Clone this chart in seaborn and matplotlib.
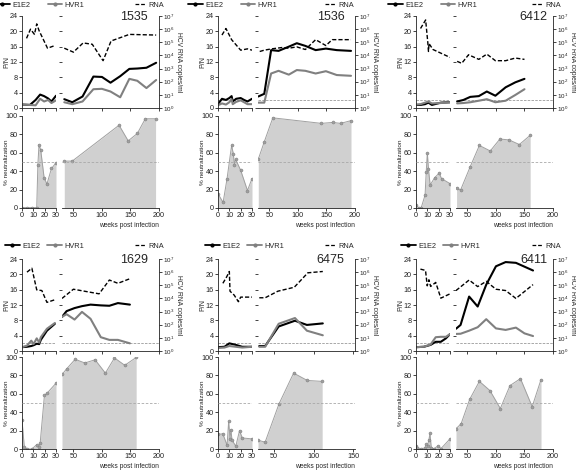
import matplotlib
matplotlib.use("Agg")
import matplotlib.pyplot as plt
import seaborn as sns
from matplotlib.lines import Line2D

# ---------------- data (weeks post infection; P/N; log10 RNA copies/ml; % neutralization) -------------
# 1535
p1535_wk_pn_a = [0, 7, 12, 16, 19.5, 23, 26, 30]
p1535_e1e2_a = [0.9, 0.8, 2.1, 3.5, 3.1, 2.5, 1.7, 3.2]
p1535_hvr1_a = [0.9, 0.8, 0.7, 2.4, 1.7, 2.1, 1.3, 2.0]
p1535_wk_pn_b = [34, 48, 66, 85, 100, 115, 132, 148, 162, 178, 195]
p1535_e1e2_b = [2.3, 1.5, 3.0, 8.2, 8.1, 6.6, 8.3, 10.2, 10.3, 10.5, 11.8]
p1535_hvr1_b = [1.5, 1.0, 1.7, 4.9, 5.0, 4.3, 2.8, 7.6, 7.1, 5.2, 7.3]
p1535_wk_rna_a = [4, 7.5, 11, 13, 15, 22.5, 29]
p1535_rna_a = [5.3, 6.0, 5.6, 6.4, 5.9, 4.55, 4.75]
p1535_wk_rna_b = [34, 50, 67, 83, 102, 116, 148, 195]
p1535_rna_b = [4.55, 4.25, 4.95, 4.85, 3.6, 5.1, 5.6, 5.55]
p1535_wk_nt_a = [0, 4, 9, 13, 14, 15, 16.5, 19.5, 22, 26, 30]
p1535_nt_a = [0.5, 0.5, 0.5, 0.5, 47, 69, 63, 33, 26, 43, 49]
p1535_wk_nt_b = [34, 48, 130, 146, 162, 176, 194]
p1535_nt_b = [51, 51, 90, 73, 81, 97, 97]

# 1536
p1536_wk_pn_a = [0, 3.5, 7, 10, 12, 13, 16, 20, 23, 26, 30]
p1536_e1e2_a = [1.0, 2.4, 2.1, 2.6, 3.1, 1.7, 2.4, 2.6, 2.1, 1.7, 2.4]
p1536_hvr1_a = [0.7, 1.2, 0.9, 1.5, 2.3, 1.0, 1.6, 2.0, 1.5, 1.0, 1.0]
p1536_wk_pn_b = [30.5, 41, 53, 66, 84, 98, 113, 131, 149, 168, 193]
p1536_e1e2_b = [3.0, 3.7, 15.1, 14.9, 16.0, 16.9, 16.2, 15.1, 15.5, 15.1, 14.9]
p1536_hvr1_b = [1.4, 1.4, 9.0, 9.7, 8.7, 9.9, 9.7, 9.0, 9.6, 8.6, 8.4]
p1536_wk_rna_a = [3.5, 7, 12, 20, 26, 30]
p1536_rna_a = [5.55, 6.05, 5.2, 4.4, 4.5, 4.4]
p1536_wk_rna_b = [33, 41, 54, 72, 84, 98, 113, 131, 149, 160, 193]
p1536_rna_b = [4.3, 4.4, 4.5, 4.6, 4.55, 4.65, 4.45, 5.2, 4.75, 5.2, 5.2]
p1536_wk_nt_a = [0, 4.5, 8, 12, 13.5, 14.5, 15.5, 20, 26, 30]
p1536_nt_a = [15.5, 6, 32, 68, 59, 47, 53, 41, 19, 32]
p1536_wk_nt_b = [30.5, 41, 56, 141, 161, 175, 193]
p1536_nt_b = [53, 72, 98, 92, 93, 92, 95]

# 6412
p6412_wk_pn_a = [0, 4, 8, 11, 14, 22, 30]
p6412_e1e2_a = [0.8, 0.8, 1.0, 1.4, 0.8, 1.4, 1.5]
p6412_hvr1_a = [0.9, 1.0, 1.4, 1.7, 1.2, 1.3, 1.5]
p6412_wk_pn_b = [32, 43, 55, 70, 84, 99, 117, 134, 150]
p6412_e1e2_b = [1.7, 2.1, 2.9, 3.1, 4.3, 3.2, 5.4, 6.7, 7.6]
p6412_hvr1_b = [1.2, 1.3, 1.5, 1.9, 2.3, 1.5, 1.9, 3.4, 4.9]
p6412_wk_rna_a = [4, 8.5, 10.5, 11, 11.5, 15, 30]
p6412_rna_a = [6.05, 6.7, 4.9, 4.3, 4.9, 4.45, 3.85]
p6412_wk_rna_b = [32, 40, 52, 70, 84, 99, 117, 134, 150]
p6412_rna_b = [3.55, 3.4, 4.05, 3.7, 4.1, 3.6, 3.6, 3.8, 3.7]
p6412_wk_nt_a = [0, 2.5, 4.5, 8, 9, 10, 11, 12.5, 16.5, 20.5, 22.5, 30]
p6412_nt_a = [3.7, 0, 0, 14, 39, 60, 42, 25, 33, 38, 32, 26.5]
p6412_wk_nt_b = [31, 38, 55, 71, 90, 107, 123, 141, 160]
p6412_nt_b = [22, 19.5, 45, 68, 62, 75, 74, 69, 79]

# 1629
p1629_wk_pn_a = [0, 4.4, 8.2, 10.2, 13, 15.2, 16.6, 22, 29]
p1629_e1e2_a = [1.0, 1.1, 1.3, 1.5, 1.9, 1.8, 2.9, 5.3, 7.1]
p1629_hvr1_a = [1.0, 1.4, 2.7, 1.8, 3.3, 2.2, 3.6, 5.8, 7.3]
p1629_wk_pn_b = [30, 38, 52, 65, 80, 98, 113, 128, 149]
p1629_e1e2_b = [8.9, 10.4, 11.2, 11.7, 12.1, 11.9, 11.8, 12.5, 12.1]
p1629_hvr1_b = [8.9, 9.6, 8.2, 10.2, 8.4, 3.6, 2.9, 2.9, 2.0]
p1629_wk_rna_a = [4.4, 8.7, 13, 17.5, 22, 29]
p1629_rna_a = [6.0, 6.3, 4.65, 4.6, 3.7, 3.9]
p1629_wk_rna_b = [30, 50, 95, 113, 128, 149]
p1629_rna_b = [4.0, 4.7, 4.35, 5.4, 5.15, 5.5]
p1629_wk_nt_a = [0, 2, 4.4, 8.7, 13, 14.6, 16, 19.8, 22, 30]
p1629_nt_a = [31.5, 2.5, 0, 0, 4.7, 2.5, 6, 58.5, 60.5, 71.5]
p1629_wk_nt_b = [30, 38, 53, 70, 88, 106, 122, 140, 160]
p1629_nt_b = [81, 87, 97.5, 93.5, 97, 82.5, 99, 91, 99.5]

# 6475
p6475_wk_pn_a = [0, 5.7, 10, 15.7, 21.4, 30]
p6475_e1e2_a = [1.0, 1.1, 2.0, 1.6, 1.1, 1.1]
p6475_hvr1_a = [0.8, 0.9, 1.3, 1.1, 0.9, 1.1]
p6475_wk_pn_b = [31.6, 39, 56, 76.5, 91.5, 111.5]
p6475_e1e2_b = [1.3, 1.3, 6.4, 7.9, 6.8, 7.2]
p6475_hvr1_b = [1.1, 1.1, 7.1, 8.6, 5.3, 4.1]
p6475_wk_rna_a = [4.3, 7.7, 10, 10.6, 14.3, 18, 20, 30]
p6475_rna_a = [5.15, 5.65, 6.05, 4.55, 4.25, 3.75, 4.1, 4.1]
p6475_wk_rna_b = [31.6, 39, 55, 75.6, 92.7, 111.5]
p6475_rna_b = [4.05, 4.05, 4.55, 4.85, 5.95, 6.05]
p6475_wk_nt_a = [0, 4.3, 8, 9.4, 10.6, 11.4, 12.3, 15.7, 19, 21.4, 30]
p6475_nt_a = [16, 16.5, 4, 30, 11, 21, 10, 3, 20, 12, 11]
p6475_wk_nt_b = [30, 39, 56.4, 74.8, 92, 110.7]
p6475_nt_b = [9.5, 7.5, 49, 82.5, 74.5, 73.5]

# 6411
p6411_wk_pn_a = [0, 6.9, 12.9, 17.4, 21.9, 26.4, 30]
p6411_e1e2_a = [1.0, 1.1, 1.6, 2.4, 2.4, 3.3, 4.4]
p6411_hvr1_a = [1.0, 1.1, 1.7, 3.6, 3.7, 3.7, 4.4]
p6411_wk_pn_b = [30, 38, 53, 68, 83, 100, 117, 135, 150, 165]
p6411_e1e2_b = [5.8, 6.8, 14.2, 11.6, 17.3, 22.1, 23.2, 23.0, 22.0, 21.0]
p6411_hvr1_b = [4.45, 4.5, 5.3, 6.2, 8.3, 5.9, 5.5, 6.1, 4.6, 3.9]
p6411_wk_rna_a = [3.9, 8.4, 9.9, 11.4, 12.9, 17.4, 21.9, 30]
p6411_rna_a = [6.23, 6.13, 4.96, 5.42, 4.91, 5.22, 4.02, 4.35]
p6411_wk_rna_b = [30, 53, 68, 83, 100, 117, 135, 165]
p6411_rna_b = [4.6, 5.4, 4.9, 5.3, 4.7, 4.6, 4.0, 5.05]
p6411_wk_nt_a = [0, 1, 4, 7.8, 9, 10.2, 11.4, 12.3, 13.5, 16, 19.8, 22, 30]
p6411_nt_a = [3.7, 1.5, 0.4, 1, 5.5, 3.7, 10, 17, 1, 0.4, 3.7, 0.4, 11]
p6411_wk_nt_b = [30, 39, 54, 71, 89.5, 107.7, 124.7, 143, 163.5, 179]
p6411_nt_b = [22, 27.5, 54, 73.5, 63.5, 44, 69, 76.5, 46, 75.5]

PANEL_IDS = ["1535", "1536", "6412", "1629", "6475", "6411"]
CUTOFF_PN = 2.1
LEGEND_LABELS = ["E1E2", "HVR1", "RNA"]
G = globals()


def series(pid, key):
    return G[f"p{pid}_{key}"]


# ---------------- layout (pixels) ----------------
W, H = 576, 470
sns.set_style("ticks")
plt.rcParams['font.family'] = ['Liberation Sans', 'DejaVu Sans']
plt.rcParams['mathtext.fontset'] = 'custom'
plt.rcParams['mathtext.rm'] = 'Liberation Sans'
plt.rcParams['mathtext.it'] = 'Liberation Sans'

fig = plt.figure(figsize=(W / 100, H / 100), dpi=100)


def rect(x0, y0, x1, y1):
    return [x0 / W, 1 - y1 / H, (x1 - x0) / W, (y1 - y0) / H]


COL_L = [22, 218, 416]
ROWS = [(16, 108, 116, 208), (259, 351, 357, 449)]
ID_POS = [0.74, 0.75, 0.80]
LEG_Y = [5, 246]

E_COLOR = 'black'
H_COLOR = '#808080'
FILL = '#d0d0d0'
NLINE = '#a0a0a0'
TICK_FS = 5.2
LEG_FS = 5.3
EM = LEG_FS * 100 / 72


def base_style(ax):
    for s in ax.spines.values():
        s.set_linewidth(0.6)
        s.set_color('#222222')
    ax.tick_params(length=2.2, width=0.6, labelsize=TICK_FS, pad=1, colors='#222222')


for idx, pid in enumerate(PANEL_IDS):
    r, c = divmod(idx, 3)
    L = COL_L[c]
    yt0, yt1, yb0, yb1 = ROWS[r]
    xmax = 152 if pid == "6475" else 200
    late_ticks = [50, 100, 150] if pid == "6475" else [50, 100, 150, 200]
    segs = [(L, L + 34, (0, 30), [0, 10, 20, 30], 'a'),
            (L + 40, L + 137, (30, xmax), late_ticks, 'b')]
    for i, (x0, x1, xl, ticks, sfx) in enumerate(segs):
        wpx = x1 - x0
        # ---- top: P/N + RNA ----
        ax = fig.add_axes(rect(x0, yt0, x1, yt1))
        base_style(ax)
        sns.lineplot(x=series(pid, f"wk_pn_{sfx}"), y=series(pid, f"e1e2_{sfx}"), ax=ax,
                     color=E_COLOR, linewidth=1.5, estimator=None, sort=False)
        sns.lineplot(x=series(pid, f"wk_pn_{sfx}"), y=series(pid, f"hvr1_{sfx}"), ax=ax,
                     color=H_COLOR, linewidth=1.5, estimator=None, sort=False)
        if pid != "1535":
            ax.axhline(CUTOFF_PN, color='#9a9a9a', lw=0.6, dashes=(3, 1.5), zorder=0)
        ax.set_xlim(*xl)
        ax.set_ylim(0, 24)
        ax.set_xticks(ticks)
        ax.set_yticks(range(0, 25, 4))
        ax.tick_params(labelbottom=False)
        ax.spines[['top', 'right']].set_visible(False)
        ax.set_xlabel('')
        if i == 1:
            ax.spines['left'].set_visible(False)
            ax.tick_params(left=False, labelleft=False)
            ax.set_ylabel('')
            ax.text(ID_POS[c], 0.985, pid, transform=ax.transAxes, ha='center', va='center',
                    fontsize=9)
        else:
            ax.set_ylabel('P/N', fontsize=5)
            ax.yaxis.label.set_va('center')
            ax.yaxis.set_label_coords(-15.5 / wpx, 0.5)
        tw = ax.twinx()
        base_style(tw)
        sns.lineplot(x=series(pid, f"wk_rna_{sfx}"), y=series(pid, f"rna_{sfx}"), ax=tw,
                     color='black', linewidth=1.0, linestyle=(0, (3, 1.5)),
                     estimator=None, sort=False)
        tw.set_ylim(0, 7)
        tw.set_xlim(*xl)
        tw.spines[['top', 'left', 'bottom']].set_visible(False)
        if i == 0:
            tw.spines['right'].set_visible(False)
            tw.tick_params(right=False, labelright=False)
            tw.set_ylabel('')
        else:
            tw.set_yticks(range(8))
            tw.set_yticklabels([rf'$10^{{{k}}}$' for k in range(8)])
            tw.tick_params(labelsize=4.5, pad=0.6, length=2.0)
            tw.set_ylabel('HCV RNA copies/ml', fontsize=4.9, rotation=-90)
            tw.yaxis.label.set_va('center')
            tw.yaxis.label.set_ha('center')
            tw.yaxis.set_label_coords(1 + 19.2 / wpx, 0.5)

        # ---- bottom: % neutralization ----
        axb = fig.add_axes(rect(x0, yb0, x1, yb1))
        base_style(axb)
        wk = series(pid, f"wk_nt_{sfx}")
        nt = series(pid, f"nt_{sfx}")
        axb.fill_between(wk, nt, 0, color=FILL, linewidth=0, zorder=1)
        sns.lineplot(x=wk, y=nt, ax=axb, color=NLINE, linewidth=0.7, marker='o',
                     markersize=2.2, markeredgecolor='#7a7a7a', markeredgewidth=0.3,
                     estimator=None, sort=False, zorder=2)
        axb.axhline(50, color='#a8a8a8', lw=0.6, dashes=(3, 2), zorder=3)
        axb.set_xlim(*xl)
        axb.set_ylim(0, 100)
        axb.set_xticks(ticks)
        axb.set_yticks(range(0, 101, 20))
        axb.spines[['top', 'right']].set_visible(False)
        if i == 1:
            axb.spines['left'].set_visible(False)
            axb.tick_params(left=False, labelleft=False)
            axb.set_ylabel('')
            axb.set_xlabel('weeks post infection', fontsize=4.8, loc='right', labelpad=1.5)
        else:
            axb.set_ylabel('% neutralization', fontsize=4.6)
            axb.yaxis.label.set_va('center')
            axb.yaxis.set_label_coords(-15.5 / wpx, 0.5)
            axb.set_xlabel('')

    # ---- legends ----
    h_e = Line2D([], [], color=E_COLOR, lw=1.3, marker='o', markersize=2)
    h_h = Line2D([], [], color=H_COLOR, lw=1.3, marker='o', markersize=2)
    h_r = Line2D([], [], color='black', lw=0.9, linestyle=(0, (3, 1.5)))
    ly = 1 - LEG_Y[r] / H
    text_left = [[12, 205, 405], [22, 222, 418]][r][c]
    colsp = [2.4, 1.0][r]
    fig.legend(handles=[h_e, h_h], labels=LEGEND_LABELS[:2], loc='center left',
               bbox_to_anchor=((text_left - 2.3 * EM) / W, ly), ncol=2, frameon=False,
               fontsize=LEG_FS, handlelength=2.0, handletextpad=0.3, columnspacing=colsp,
               borderaxespad=0, borderpad=0)
    rna_left = [135, 325, 532][c]
    fig.legend(handles=[h_r], labels=LEGEND_LABELS[2:], loc='center left',
               bbox_to_anchor=(rna_left / W, ly), frameon=False, fontsize=LEG_FS,
               handlelength=1.45, handletextpad=0.35, borderaxespad=0, borderpad=0)

fig.savefig("out.png", dpi=100)
